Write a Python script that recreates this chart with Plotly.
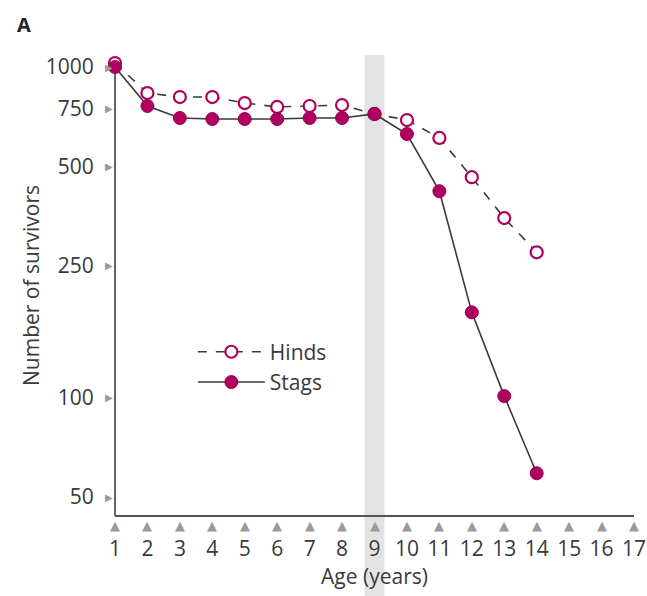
import math
import plotly.graph_objects as go

# ---- data ----
ages = list(range(1, 15))
hinds = [1028, 834, 811, 811, 778, 757, 762, 767, 721, 691, 610, 464, 349, 275]
stags = [1000, 762, 701, 696, 696, 696, 701, 701, 721, 627, 421, 181, 101, 59]
x_ticks = list(range(1, 18))
y_ticks = [50, 100, 250, 500, 750, 1000]
y_tick_labels = ["50", "100", "250", "500", "750", "1000"]
highlight_age = 9

MAG = "#B0005F"
LINE = "#3a3a3a"
TXT = "#3a3a3a"
TICKC = "#9a9a9a"
FONT = "Open Sans"
FS = 21

fig = go.Figure()

fig.add_trace(go.Scatter(
    x=ages, y=hinds, name="Hinds", mode="lines+markers",
    line=dict(color=LINE, width=1.6, dash="dash"),
    marker=dict(symbol="circle", size=12, color="white",
                line=dict(color=MAG, width=2.2)),
    cliponaxis=False,
))
fig.add_trace(go.Scatter(
    x=ages, y=stags, name="Stags", mode="lines+markers",
    line=dict(color=LINE, width=1.6),
    marker=dict(symbol="circle", size=13, color=MAG,
                line=dict(color="#9a004f", width=1)),
    cliponaxis=False,
))

ymin_log = math.log10(43.8)
ymax_log = 3.0363

shapes = [
    dict(type="rect", xref="x", yref="paper", x0=highlight_age - 0.31, x1=highlight_age + 0.31,
         y0=-0.175, y1=1.0, fillcolor="#e3e3e3", line=dict(width=0), layer="below"),
    dict(type="line", xref="x", yref="paper", x0=x_ticks[0], x1=x_ticks[-1] + 0.05, y0=0, y1=0,
         line=dict(color="#555555", width=1.8), layer="below"),
    dict(type="line", xref="paper", yref="paper", x0=0, x1=0, y0=0,
         y1=(3.0 - ymin_log) / (ymax_log - ymin_log),
         line=dict(color="#555555", width=1.8), layer="below"),
]

annotations = []
for t in x_ticks:
    annotations.append(dict(x=t, y=0, xref="x", yref="paper", text="▲", showarrow=False,
                            yanchor="top", yshift=0, font=dict(size=13, color=TICKC, family="DejaVu Sans")))
for t in y_ticks:
    annotations.append(dict(x=0, y=math.log10(t), xref="paper", yref="y", text="▶", showarrow=False,
                            xanchor="right", xshift=0, font=dict(size=10, color=TICKC, family="DejaVu Sans")))
annotations.append(dict(x=-0.193, y=1.066, xref="paper", yref="paper", text="<b>A</b>",
                        showarrow=False, xanchor="left", yanchor="middle",
                        font=dict(size=20, color="#222", family=FONT)))

fig.update_layout(
    width=647, height=596,
    margin=dict(l=115, r=13, t=55, b=80, autoexpand=False),
    paper_bgcolor="white", plot_bgcolor="white",
    font=dict(family=FONT, size=FS, color=TXT),
    shapes=shapes, annotations=annotations,
    showlegend=True,
    legend=dict(x=0.15, y=0.4, xanchor="left", yanchor="top",
                bgcolor="rgba(0,0,0,0)", font=dict(size=FS, color=TXT),
                itemwidth=67, tracegroupgap=0),
    xaxis=dict(range=[1, 17], tickvals=x_ticks, ticktext=[str(v) for v in x_ticks],
               showgrid=False, zeroline=False, showline=False, automargin=False,
               ticks="outside", ticklen=14, tickcolor="rgba(0,0,0,0)",
               tickfont=dict(size=FS, color=TXT),
               title=dict(text="Age (years)", font=dict(size=FS, color=TXT), standoff=2)),
    yaxis=dict(type="log", range=[ymin_log, ymax_log], tickvals=y_ticks, ticktext=y_tick_labels,
               showgrid=False, zeroline=False, showline=False, automargin=False,
               ticks="outside", ticklen=16, tickcolor="rgba(0,0,0,0)",
               tickfont=dict(size=FS, color=TXT),
               title=dict(text="Number of survivors", font=dict(size=FS, color=TXT), standoff=0)),
)

fig.write_html("out.html", config={"displayModeBar": False},
               post_script="document.body.style.margin='0';document.body.style.padding='0';")
